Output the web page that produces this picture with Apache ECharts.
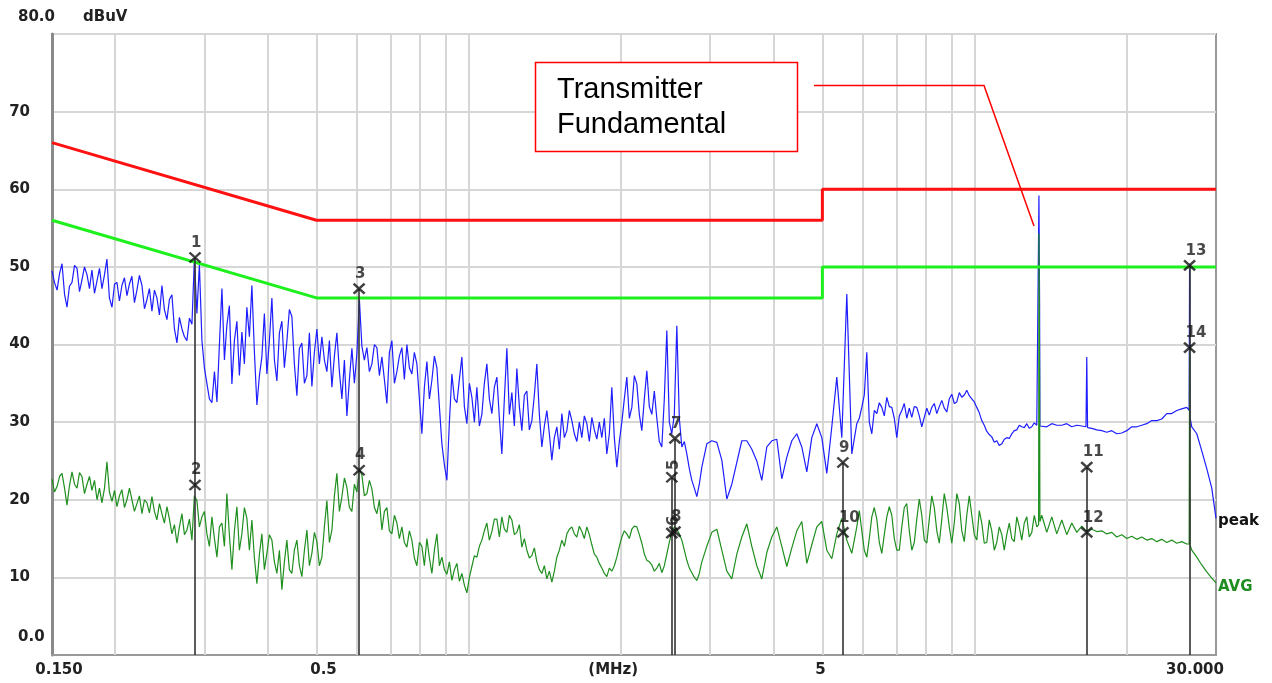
<!DOCTYPE html>
<html><head><meta charset="utf-8">
<script src="https://cdn.jsdelivr.net/npm/echarts@6/dist/echarts.min.js"></script>
<style>html,body{margin:0;padding:0;background:#fff}#c{width:1272px;height:683px}</style>
</head><body><div id="c"></div>
<script>
// Sweep frequencies (MHz)
const freqMHz = [
0.1500,0.1517,0.1535,0.1553,0.1570,0.1588,0.1606,0.1624,0.1643,0.1662,0.1681,0.1700,0.1719,0.1739,0.1759,0.1779,0.1799,0.1820,0.1841,0.1862,
0.1883,0.1905,0.1926,0.1948,0.1971,0.1994,0.2016,0.2039,0.2062,0.2086,0.2110,0.2134,0.2158,0.2183,0.2208,0.2233,0.2259,0.2285,0.2311,0.2337,
0.2364,0.2391,0.2418,0.2446,0.2474,0.2502,0.2531,0.2560,0.2589,0.2619,0.2649,0.2679,0.2710,0.2741,0.2772,0.2804,0.2836,0.2868,0.2901,0.2934,
0.2968,0.3002,0.3036,0.3071,0.3106,0.3142,0.3178,0.3214,0.3251,0.3288,0.3325,0.3363,0.3402,0.3441,0.3480,0.3520,0.3560,0.3601,0.3642,0.3684,
0.3726,0.3769,0.3812,0.3856,0.3899,0.3944,0.3989,0.4035,0.4081,0.4128,0.4175,0.4223,0.4271,0.4320,0.4369,0.4419,0.4470,0.4521,0.4573,0.4625,
0.4678,0.4732,0.4786,0.4841,0.4896,0.4952,0.5009,0.5066,0.5124,0.5183,0.5242,0.5302,0.5363,0.5424,0.5486,0.5549,0.5613,0.5677,0.5742,0.5808,
0.5874,0.5941,0.6009,0.6078,0.6147,0.6217,0.6289,0.6361,0.6434,0.6508,0.6582,0.6657,0.6733,0.6810,0.6888,0.6967,0.7047,0.7128,0.7209,0.7291,
0.7375,0.7459,0.7545,0.7631,0.7718,0.7806,0.7896,0.7986,0.8078,0.8170,0.8264,0.8359,0.8454,0.8551,0.8649,0.8748,0.8848,0.8949,0.9051,0.9155,
0.9260,0.9366,0.9473,0.9581,0.9691,0.9802,0.9914,1.0027,1.0142,1.0258,1.0375,1.0494,1.0614,1.0735,1.0858,1.0982,1.1108,1.1235,1.1364,1.1494,
1.1625,1.1758,1.1893,1.2029,1.2166,1.2305,1.2446,1.2588,1.2733,1.2879,1.3026,1.3175,1.3326,1.3478,1.3632,1.3788,1.3946,1.4106,1.4267,1.4430,
1.4595,1.4762,1.4931,1.5102,1.5275,1.5450,1.5626,1.5805,1.5986,1.6169,1.6354,1.6541,1.6730,1.6921,1.7115,1.7311,1.7509,1.7709,1.7912,1.8117,
1.8324,1.8534,1.8746,1.8960,1.9177,1.9396,1.9619,1.9843,2.0070,2.0300,2.0532,2.0767,2.1005,2.1245,2.1488,2.1734,2.1983,2.2235,2.2489,2.2746,
2.3006,2.3269,2.3536,2.3805,2.4077,2.4353,2.4632,2.4913,2.5199,2.5487,2.5779,2.6074,2.6372,2.6674,2.6979,2.7288,2.7600,2.7916,2.8235,2.8558,
2.8885,2.9550,3.0230,3.0926,3.1638,3.2366,3.3111,3.3873,3.4653,3.5450,
3.6266,3.7101,3.7955,3.8829,3.9722,4.0636,4.1572,4.2529,4.3508,4.4509,
4.5534,4.6582,4.7654,4.8751,4.9873,5.1021,5.2195,5.3397,5.4626,5.5883,
5.7169,5.8485,
5.9154,5.9831,6.0516,6.1208,6.1908,6.2617,6.3333,6.4058,6.4791,6.5533,
6.6283,6.7041,6.7808,6.8584,6.9369,7.0163,7.0966,7.1778,7.2599,7.3430,
7.4270,7.5120,7.5980,7.6849,7.7729,7.8618,7.9518,8.0428,8.1348,8.2279,
8.3221,8.4173,8.5136,8.6110,8.7096,8.8092,8.9100,9.0120,9.1151,9.2194,
9.3249,9.4316,9.5396,9.6487,9.7592,9.8708,9.9838,10.098,10.214,10.330,
10.448,10.568,10.689,10.811,10.935,11.060,11.186,11.315,11.444,11.575,
11.708,11.842,11.977,12.114,12.253,12.393,12.535,12.678,12.823,12.970,
13.119,13.269,
13.38,13.40,13.44,13.46,
13.574,13.887,14.206,14.533,14.868,15.210,15.560,15.918,16.285,
16.60,16.659,16.72,
17.043,17.435,17.836,18.247,18.667,19.097,19.536,19.986,20.446,20.917,
21.398,21.890,22.394,22.910,23.437,23.977,24.529,25.093,25.671,26.262,
26.55,26.60,26.65,
26.866,27.485,28.118,28.765,29.427,30.0
];

// Peak detector trace (dBuV)
const peakLevel = [
49.5,48.0,47.0,49.2,50.4,46.5,44.8,47.5,48.0,50.2,49.8,46.8,48.3,50.0,49.0,47.2,49.6,46.6,48.2,49.8,
47.2,49.0,51.0,46.0,44.8,47.8,48.0,45.6,47.6,48.6,46.3,47.8,48.8,45.4,47.0,48.9,47.6,44.6,45.8,47.2,
44.3,47.0,46.0,43.8,47.6,44.5,43.2,45.8,46.4,42.0,40.2,43.5,42.0,41.0,40.5,43.4,42.6,51.0,44.0,50.3,
40.5,37.0,35.0,33.0,32.5,36.5,32.6,40.0,47.2,38.0,42.5,45.0,34.9,40.5,43.0,36.0,41.6,37.5,44.8,41.0,
47.6,39.0,32.2,36.0,38.4,44.0,36.2,40.5,46.0,38.0,35.3,41.5,43.0,37.0,40.4,44.5,43.6,37.5,33.4,39.5,
40.2,35.0,36.0,41.5,34.6,39.0,42.0,37.5,41.0,38.0,36.5,40.5,34.5,38.5,41.5,36.5,33.0,38.0,30.8,35.5,
39.5,35.0,38.8,45.8,39.8,38.0,39.6,36.5,37.5,40.0,39.6,36.0,38.4,35.5,32.4,39.0,40.5,35.0,36.5,38.5,
39.6,35.5,40.0,37.0,36.2,39.0,37.5,33.0,28.5,34.5,37.8,33.0,35.4,38.5,37.0,32.0,27.2,24.5,22.5,30.0,
36.2,33.0,32.5,35.5,38.4,32.0,29.8,35.0,33.2,30.0,34.5,29.5,31.0,35.0,37.5,33.0,31.1,34.5,35.8,30.5,
25.9,33.0,39.5,31.0,33.8,29.5,36.9,32.0,28.9,33.5,34.0,29.0,30.2,33.5,37.5,31.0,26.8,29.5,31.5,28.5,
25.1,28.0,29.4,26.5,31.1,28.0,28.9,31.5,30.2,28.5,27.5,30.0,28.0,30.8,29.8,27.5,30.6,29.0,27.8,30.0,
28.0,30.5,25.9,28.5,34.5,28.0,24.2,27.5,30.0,33.0,35.8,30.5,31.9,36.0,34.9,31.0,28.9,33.0,36.6,32.0,
31.0,34.0,30.5,27.5,26.8,33.0,41.8,30.0,28.5,31.0,42.4,30.5,26.8,27.5,25.9,24.0,22.5,21.5,20.4,22.0,
24.2,27.2,27.6,27.4,25.1,20.1,22.0,24.8,27.6,27.6,
26.5,25.0,22.5,26.8,27.6,27.8,22.7,25.5,27.6,28.5,
26.8,23.6,28.0,29.8,28.0,23.4,29.4,35.8,28.0,46.5,
25.9,29.8,
30.5,31.9,33.5,39.0,30.0,28.5,31.5,31.1,32.5,31.9,
30.8,33.2,32.0,31.9,30.5,28.0,30.8,31.5,32.4,30.5,
31.8,30.6,32.0,31.9,30.8,29.4,30.6,31.8,30.9,31.9,
32.4,31.1,32.0,32.8,31.8,31.3,33.0,33.6,32.4,32.6,
33.8,33.2,33.5,34.1,33.4,33.0,32.6,31.9,31.2,30.2,
29.6,28.8,28.4,28.1,27.4,27.6,27.0,27.2,27.8,28.0,
27.9,28.5,28.9,29.0,29.6,29.4,29.3,29.8,29.2,29.4,
29.9,29.6,
29.6,59.2,45.0,29.5,
29.4,29.4,29.8,29.6,29.6,29.8,29.4,29.6,29.5,
29.4,38.4,29.3,
29.2,29.0,28.9,28.7,28.9,28.5,28.6,28.9,29.4,29.4,
29.6,29.8,30.2,30.2,30.4,31.1,31.1,31.5,31.7,31.9,
31.5,50.4,30.6,
29.4,28.5,26.3,24.0,21.5,17.6
];

// Average detector trace (dBuV)
const avgLevel = [
22.7,21.0,21.7,23.0,23.4,21.5,19.3,21.8,23.6,22.0,21.5,23.5,23.0,20.8,22.0,23.0,21.2,22.5,20.0,21.5,
19.6,21.5,24.9,21.0,19.8,21.2,19.1,20.5,21.3,19.0,20.0,21.5,20.0,18.5,19.5,20.5,18.2,20.0,19.6,18.3,
20.4,18.5,17.4,19.5,18.2,17.0,19.1,17.5,15.6,16.8,14.4,16.5,18.2,15.5,16.1,17.5,14.8,20.5,19.9,16.5,
17.8,18.5,15.6,14.0,17.8,15.0,12.6,16.5,17.0,14.0,20.8,15.5,11.0,16.0,19.1,13.5,15.6,19.0,17.6,13.5,
17.4,12.5,9.2,13.0,15.6,11.0,13.1,15.5,14.8,12.0,10.5,13.5,8.4,12.0,14.8,11.0,10.5,13.5,14.8,11.5,
10.1,13.5,16.1,11.5,13.1,15.8,14.6,11.5,12.6,16.5,19.9,14.5,16.1,20.5,23.4,18.5,20.4,22.8,21.6,19.0,
18.5,22.0,21.0,24.0,23.2,20.5,20.8,22.5,21.4,19.0,18.2,20.0,16.1,18.5,19.0,16.0,15.6,18.0,17.0,15.0,
16.5,14.5,13.9,16.0,14.8,12.5,11.5,14.5,14.0,11.5,15.0,12.5,10.5,13.5,15.6,11.5,12.6,11.0,10.4,12.0,
9.6,11.0,11.8,9.5,10.5,9.0,8.0,10.0,11.4,12.8,12.6,14.0,14.8,16.0,17.0,14.8,15.9,17.5,17.5,15.2,
17.8,16.2,15.8,18.0,17.4,15.5,15.8,16.8,13.9,15.0,13.5,12.5,12.8,13.8,12.0,11.0,10.5,11.5,9.8,10.8,
9.4,10.8,12.6,13.5,14.8,14.0,15.6,16.2,16.5,15.6,15.2,16.6,15.9,15.0,16.5,15.5,14.2,13.0,12.6,11.8,
11.2,10.5,10.1,11.2,10.8,11.5,12.6,14.0,15.2,16.0,15.6,15.0,16.2,16.6,16.5,15.5,14.4,13.0,12.2,12.0,
11.6,10.8,11.2,11.8,10.6,11.5,13.0,14.5,15.9,16.5,16.2,15.6,14.8,13.5,12.2,11.2,10.6,10.0,9.6,10.5,
12.0,14.0,15.8,16.2,13.5,10.8,9.8,13.0,15.2,16.9,
14.0,11.5,9.8,13.2,15.2,16.5,14.0,11.4,13.8,16.0,
17.2,11.8,14.2,16.5,17.2,13.5,12.4,15.6,17.6,14.8,
13.1,16.5,
18.6,16.0,13.5,12.6,15.0,17.8,19.0,17.5,14.5,13.1,
15.5,17.8,19.1,18.0,15.0,13.5,13.5,16.5,19.0,19.5,
16.0,13.5,14.5,17.5,20.1,18.0,14.8,14.4,17.5,20.5,
19.0,16.0,14.4,17.5,20.8,19.0,16.5,14.4,17.0,20.8,
19.5,16.0,14.6,18.0,20.5,18.0,15.5,14.8,18.6,17.0,
14.4,14.5,17.4,16.0,13.5,14.5,16.5,15.5,13.5,15.5,
17.0,15.0,14.6,17.8,16.5,14.8,17.0,17.8,15.2,15.8,
18.0,16.5,
16.8,54.3,36.0,17.2,
18.0,15.8,17.8,15.6,17.4,15.5,17.0,15.8,16.6,
16.0,15.8,16.1,
16.2,15.9,16.0,15.6,15.8,15.2,15.5,15.0,15.3,14.9,
15.2,14.8,15.0,14.6,14.9,14.5,14.8,14.4,14.6,14.3,
14.3,39.5,14.2,
13.5,12.6,11.6,10.7,9.9,9.3
];

// Limit lines
const limitFreq = [0.15, 0.5, 5, 5, 30];
const qpLimit   = [66, 56, 56, 60, 60];
const avgLimit  = [56, 46, 46, 50, 50];

// Markers
const markerName  = ['1','2','3','4','5','6','7','8','9','10','11','12','13','14'];
const markerFreq  = [0.2876,0.2876,0.607,0.607,2.52,2.52,2.556,2.556,5.49,5.49,16.66,16.66,26.6,26.6];
const markerLevel = [51.2,21.9,47.2,23.8,22.9,15.7,27.9,15.9,24.8,15.8,24.2,15.8,50.2,39.6];
const markerRotated = ['5', '6'];

// Axes
const gridFreq = [0.2,0.3,0.4,0.5,0.6,0.7,0.8,0.9,1,2,3,4,5,6,7,8,9,10,20];
const yTicks = [0,10,20,30,40,50,60,70,80];
const xTickValues = [0.15, 0.5, 1.93, 5, 30];
const xTickLabels = ['0.150', '0.5', '(MHz)', '5', '30.000'];
const xTickShift  = [7, 7, 0, -2, -21];

const pair = (xs, ys) => xs.map((x, i) => [x, ys[i]]);
const FONT = '"DejaVu Sans", sans-serif';

// vertical marker lines: from highest marker at each frequency to 0
const lineTops = {};
markerFreq.forEach((f, i) => { lineTops[f] = Math.max(lineTops[f] || 0, markerLevel[i]); });
const markerLines = Object.keys(lineTops).map(k => [{coord: [Number(k), lineTops[k]]}, {coord: [Number(k), 0]}]);

const markerData = markerFreq.map((f, i) => {
  const d = {value: [f, markerLevel[i]]};
  if (markerRotated.indexOf(markerName[i]) >= 0) {
    d.label = {rotate: 90, align: 'left', offset: [0, 2], verticalAlign: 'middle'};
  }
  return d;
});

const chart = echarts.init(document.getElementById('c'), null, {renderer: 'canvas'});
const option = {
  animation: false,
  backgroundColor: '#fff',
  grid: {left: 52, right: 56, top: 34, bottom: 28, show: true, borderColor: '#999', borderWidth: 2,
         backgroundColor: '#fff', containLabel: false, outerBoundsMode: 'none'},
  xAxis: {
    type: 'log', logBase: 10, min: 0.15, max: 30,
    axisLine: {show: true, onZero: false, lineStyle: {color: '#999', width: 2}},
    axisTick: {show: false}, axisLabel: {show: false},
    splitLine: {show: false}, minorSplitLine: {show: false}
  },
  yAxis: {
    type: 'value', min: 0, max: 80, interval: 10,
    axisLine: {show: true, lineStyle: {color: '#8a8a8a', width: 3}},
    axisTick: {show: false},
    splitLine: {show: true, lineStyle: {color: '#d6d6d6', width: 2}},
    axisLabel: {
      margin: 22, color: '#222', fontSize: 15, fontWeight: 'bold', fontFamily: FONT,
      formatter: v => (v === yTicks[0] || v === yTicks[yTicks.length - 1]) ? '' : String(v)
    }
  },
  series: [
    {
      type: 'line', data: [], silent: true,
      markLine: {
        silent: true, z: 1, symbol: ['none', 'none'], label: {show: false},
        lineStyle: {color: '#d6d6d6', width: 2, type: 'solid'},
        emphasis: {disabled: true},
        data: gridFreq.map(f => ({xAxis: f}))
      }
    },
    {
      name: 'peak', type: 'line', data: pair(freqMHz, peakLevel), showSymbol: false, silent: true, z: 3,
      lineStyle: {color: '#1e1eff', width: 1.2}
    },
    {
      name: 'AVG', type: 'line', data: pair(freqMHz, avgLevel), showSymbol: false, silent: true, z: 3,
      lineStyle: {color: '#1f8f1f', width: 1.2}
    },
    {
      name: 'QP limit', type: 'line', data: pair(limitFreq, qpLimit), showSymbol: false, silent: true, z: 4,
      lineStyle: {color: '#ff1111', width: 3}
    },
    {
      name: 'AVG limit', type: 'line', data: pair(limitFreq, avgLimit), showSymbol: false, silent: true, z: 4,
      lineStyle: {color: '#1ef01e', width: 3}
    },
    {
      name: 'markers', type: 'scatter', data: markerData, silent: true, z: 6,
      symbol: 'path://M0,0L10,10M10,0L0,10', symbolSize: [11, 10],
      itemStyle: {color: 'rgba(0,0,0,0)', borderColor: '#111', borderWidth: 2.4},
      label: {
        show: true, position: 'top', distance: 1, align: 'left', offset: [-4, 0],
        color: '#1a1a1a', fontSize: 15, fontWeight: 'bold', fontFamily: FONT,
        formatter: p => markerName[p.dataIndex]
      },
      markLine: {
        silent: true, z: 5, symbol: ['none', 'none'], label: {show: false},
        lineStyle: {color: '#333', width: 1.6, type: 'solid'},
        emphasis: {disabled: true},
        data: markerLines
      }
    }
  ]
};
chart.setOption(option);

// Text and annotation overlays
const g = [];
const bottomY = chart.convertToPixel({yAxisIndex: 0}, 0);
const topY = chart.convertToPixel({yAxisIndex: 0}, 80);
xTickValues.forEach((v, i) => {
  const px = chart.convertToPixel({xAxisIndex: 0}, v);
  g.push({type: 'text', x: px + xTickShift[i], y: bottomY + 15, silent: true,
    style: {text: xTickLabels[i], font: 'bold 15px ' + FONT, fill: '#222', align: 'center', verticalAlign: 'middle'}});
});
g.push({type: 'text', x: 18, y: bottomY - 18, silent: true,
  style: {text: '0.0', font: 'bold 15px ' + FONT, fill: '#222', align: 'left', verticalAlign: 'middle'}});
g.push({type: 'text', x: 18, y: topY - 17, silent: true,
  style: {text: '80.0', font: 'bold 15px ' + FONT, fill: '#222', align: 'left', verticalAlign: 'middle'}});
g.push({type: 'text', x: 83, y: topY - 17, silent: true,
  style: {text: 'dBuV', font: 'bold 15px ' + FONT, fill: '#222', align: 'left', verticalAlign: 'middle'}});
g.push({type: 'text', x: 1218, y: chart.convertToPixel({yAxisIndex: 0}, peakLevel[peakLevel.length - 1]) + 3, silent: true,
  style: {text: 'peak', font: 'bold 15px ' + FONT, fill: '#111', align: 'left', verticalAlign: 'middle'}});
g.push({type: 'text', x: 1218, y: chart.convertToPixel({yAxisIndex: 0}, avgLevel[avgLevel.length - 1]) + 4, silent: true,
  style: {text: 'AVG', font: 'bold 15px ' + FONT, fill: '#1e8c1e', align: 'left', verticalAlign: 'middle'}});
// callout
g.push({type: 'polyline', silent: true, z: 100,
  shape: {points: [[814, 85.5], [984, 85.5], [1034, 226]]},
  style: {stroke: '#ff0000', lineWidth: 1.5, fill: null}});
g.push({type: 'rect', silent: true, z: 100,
  shape: {x: 535.5, y: 62.5, width: 262, height: 89},
  style: {fill: '#fff', stroke: '#ff0000', lineWidth: 1.5}});
g.push({type: 'text', x: 557, y: 72.5, silent: true, z: 101,
  style: {text: 'Transmitter\nFundamental', font: '29px "Liberation Sans", Arial, sans-serif', lineHeight: 35,
          fill: '#000', align: 'left', verticalAlign: 'top'}});
chart.setOption({graphic: g});
</script>
</body></html>
